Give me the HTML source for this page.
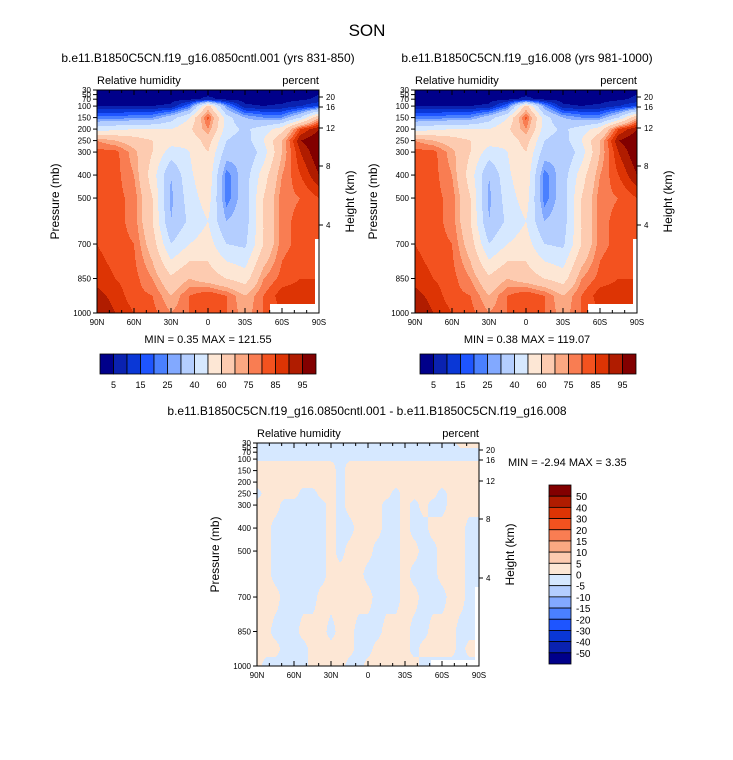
<!DOCTYPE html>
<html><head><meta charset="utf-8"><style>
body{margin:0;background:#fff;font-family:"Liberation Sans",sans-serif;}
svg{display:block}
text{font-family:"Liberation Sans",sans-serif;fill:#000}
</style></head><body>
<svg id="fig" width="733" height="760" viewBox="0 0 733 760">
<text x="367" y="36" font-size="17" text-anchor="middle">SON</text>
</svg>
<script>
const NS='http://www.w3.org/2000/svg';
const svg=document.getElementById('fig');
// ---------- data ----------
const lats=[90,75,60,45,30,15,0,-15,-30,-45,-60,-75,-90];
const plevs=[30,70,100,150,200,250,300,400,500,600,700,850,925,1000];
const rhCase1=[
[2,2,2,2,2,2,3,2,2,2,2,3,4],
[3,3,3,3,3,4,6,4,3,3,3,4,6],
[5,5,5,5,6,20,65,25,6,5,6,10,15],
[22,22,24,25,35,50,82,45,30,25,25,40,70],
[45,48,50,50,50,58,75,45,38,45,55,85,95],
[75,70,65,60,55,52,65,40,35,50,70,95,100],
[82,82,72,60,45,50,60,35,30,45,70,90,100],
[82,82,75,55,30,48,58,22,35,55,75,85,95],
[85,82,78,60,28,45,55,22,35,60,78,80,85],
[85,82,78,60,30,42,50,30,35,60,78,82,85],
[85,82,80,65,40,50,55,40,38,60,78,82,85],
[88,85,82,75,62,70,65,60,55,75,82,85,85],
[92,88,82,80,70,80,85,80,70,80,88,88,88],
[95,90,85,82,75,80,85,80,72,80,85,90,90]];
const rhCase2=rhCase1.map(r=>r.slice());
const rhLevels=[5,10,15,20,25,30,40,50,60,70,75,80,85,90,95];
const diffLevels=[-50,-40,-30,-20,-15,-10,-5,0,5,10,15,20,30,40,50];
const rhTickLabels=['5','15','25','40','60','75','85','95'];
const diffLabels=['50','40','30','20','15','10','5','0','-5','-10','-15','-20','-30','-40','-50'];
const diffLats=[90,82.5,75,67.5,60,52.5,45,37.5,30,22.5,15,7.5,0,-7.5,-15,-22.5,-30,-37.5,-45,-52.5,-60,-67.5,-75,-82.5,-90];
const diffSigns=[
"----------------------+++",
"-------------------------",
"mmmmmmmmmmmmmmmmmmmmmmmmm",
"+++++++++-+++++++++++++++",
"+++++++++-+++++++++++++++",
"-++++--++-+++++-++++-++++",
"+++-----+-++++--+-+--++++",
"++------+--+++--+--++++--",
"++------+-+++---++--+++--",
"++------++++----+---+++--",
"+++----++++++---++---++--",
"++---+++-++---+++--+++---",
"+++---+++++--++++-++++-++",
"+-----++++--++++++-------"];
const signVal={'+':2,'-':-2,'m':-0.5,'p':0.5};
const pressTicks=[30,50,70,100,150,200,250,300,400,500,700,850,1000];
const heightTicks=[[20,97],[16,107],[12,128],[8,166],[4,225]];
const latTicks=[[90,'90N'],[60,'60N'],[30,'30N'],[0,'0'],[-30,'30S'],[-60,'60S'],[-90,'90S']];
const palette=['#00008a','#0a22b0','#0a37d6','#1e55ff','#4a80ff','#82a9ff','#b4ceff','#d6e8ff','#fde7d5','#fdcbb0','#fba882','#f97d52','#f3521f','#dd3404','#b01c00','#820000'];
// ---------- helpers ----------
function el(tag,attrs,parent){const e=document.createElementNS(NS,tag);for(const k in attrs)e.setAttribute(k,attrs[k]);(parent||svg).appendChild(e);return e;}
function txt(x,y,s,size,anchor,parent,rot){const t=el('text',{x:x,y:y,'font-size':size,'text-anchor':anchor||'start'},parent);if(rot)t.setAttribute('transform','rotate(-90 '+x+' '+y+')');t.textContent=s;return t;}
function interp(grid,latArr,lat,p){
  let i=0;while(i<latArr.length-2&&lat<latArr[i+1])i++;
  let fx=(latArr[i]-lat)/(latArr[i]-latArr[i+1]);fx=Math.max(0,Math.min(1,fx));
  let j=0;while(j<plevs.length-2&&p>plevs[j+1])j++;
  let fy=(p-plevs[j])/(plevs[j+1]-plevs[j]);fy=Math.max(0,Math.min(1,fy));
  const a=grid[j][i],b=grid[j][i+1],c=grid[j+1][i],d=grid[j+1][i+1];
  return a*(1-fx)*(1-fy)+b*fx*(1-fy)+c*(1-fx)*fy+d*fx*fy;
}
function levelIdx(v,levels){let k=0;while(k<levels.length&&v>=levels[k])k++;return k;}
function panel(x0,y0,w,h,getVal,levels,mask,name){
  const g=el('g',{});
  
  
  const xs=lat=>x0+(90-lat)/180*w;
  const ys=p=>y0+(p-30)/970*h;
  for(let py=0;py<h;py++){
    const p=30+(py+0.5)/h*970;
    let runStart=0,runCol=null;
    for(let px=0;px<=w;px++){
      let col=null;
      if(px<w){const lat=90-(px+0.5)/w*180;
        if(mask(lat,p))col='#ffffff';else col=palette[levelIdx(getVal(lat,p),levels)];}
      if(col!==runCol){
        if(runCol!==null){const r=el('rect',{x:x0+runStart,y:y0+py,width:px-runStart,height:1.2,fill:runCol},g);
          
          }
        runStart=px;runCol=col;}
    }
  }
  const f=el('rect',{x:x0,y:y0,width:w,height:h,fill:'none',stroke:'#000','stroke-width':1},g);
  
  
  pressTicks.forEach(pv=>{const y=ys(pv);
    el('line',{x1:x0-4,x2:x0,y1:y,y2:y,stroke:'#000'},g);
    const t=txt(x0-6,y+3,String(pv),8,'end',g);
    
    });
  heightTicks.forEach(([hv,yy])=>{const y=y0+(yy-90);
    el('line',{x1:x0+w,x2:x0+w+4,y1:y,y2:y,stroke:'#000'},g);
    const t=txt(x0+w+7,y+3,String(hv),8,'start',g);
    
    });
  for(let l=90;l>=-90;l-=10){const x=xs(l);const big=l%30===0;
    el('line',{x1:x,x2:x,y1:y0+h,y2:y0+h-(big?5:3),stroke:'#000'},g);
    el('line',{x1:x,x2:x,y1:y0,y2:y0+(big?5:3),stroke:'#000'},g);}
  latTicks.forEach(([l,s])=>{const t=txt(xs(l),y0+h+12,s,8,'middle',g);
    
    });
  const a=txt(x0,y0-6,'Relative humidity',11,'start',g);
  
  const b=txt(x0+w,y0-6,'percent',11,'end',g);
  
  const yl=txt(x0-38,y0+h/2,'Pressure (mb)',12,'middle',g,true);
  
  const hl=txt(x0+w+35,y0+h/2,'Height (km)',12,'middle',g,true);
  
}
function hbar(x0,y0,w,h,name){
  const g=el('g',{});
  
  
  const bw=w/palette.length;
  palette.forEach((c,i)=>{const r=el('rect',{x:x0+i*bw,y:y0,width:bw,height:h,fill:c,stroke:'#000','stroke-width':0.8},g);
    
    });
  rhTickLabels.forEach((s,k)=>{const t=txt(x0+(2*k+1)*bw,y0+h+14,s,9,'middle',g);
    
    });
}
const maskTop=(lat,p)=>(lat<-87&&p>680)||(lat<-50.5&&p>962);
const maskBot=(lat,p)=>(lat<-87&&p>655)||(lat<-51&&p>972);
const t1=txt(208,62,'b.e11.B1850C5CN.f19_g16.0850cntl.001 (yrs 831-850)',12,'middle');

const t2=txt(527,62,'b.e11.B1850C5CN.f19_g16.008 (yrs 981-1000)',12,'middle');

panel(97,90,222,223,(la,p)=>interp(rhCase1,lats,la,p),rhLevels,maskTop,'left-contour-panel');
panel(415,90,222,223,(la,p)=>interp(rhCase2,lats,la,p),rhLevels,maskTop,'right-contour-panel');
const m1=txt(208,343,'MIN =   0.35  MAX = 121.55',11,'middle');

const m2=txt(527,343,'MIN =   0.38  MAX = 119.07',11,'middle');

hbar(100,354,216,20,'left-colorbar');
hbar(420,354,216,20,'right-colorbar');
const t3=txt(367,415,'b.e11.B1850C5CN.f19_g16.0850cntl.001 - b.e11.B1850C5CN.f19_g16.008',12,'middle');

const diffGrid=diffSigns.map(r=>r.split('').slice(0,25).map(c=>signVal[c]));
panel(257,443,222,223,(la,p)=>interp(diffGrid,diffLats,la,p),diffLevels,maskBot,'diff-contour-panel');
const m3=txt(508,466,'MIN =  -2.94  MAX =   3.35',11,'start');

(function(){const g=el('g',{});
  
  
  const x0=549,y0=485,w=22,h=179,bh=h/16;
  for(let i=0;i<16;i++){const r=el('rect',{x:x0,y:y0+i*bh,width:w,height:bh,fill:palette[15-i],stroke:'#000','stroke-width':0.8},g);
    
    }
  diffLabels.forEach((s,k)=>{const t=txt(x0+w+5,y0+(k+1)*bh+4,s,10,'start',g);
    
    });
})();
</script>
</body></html>
